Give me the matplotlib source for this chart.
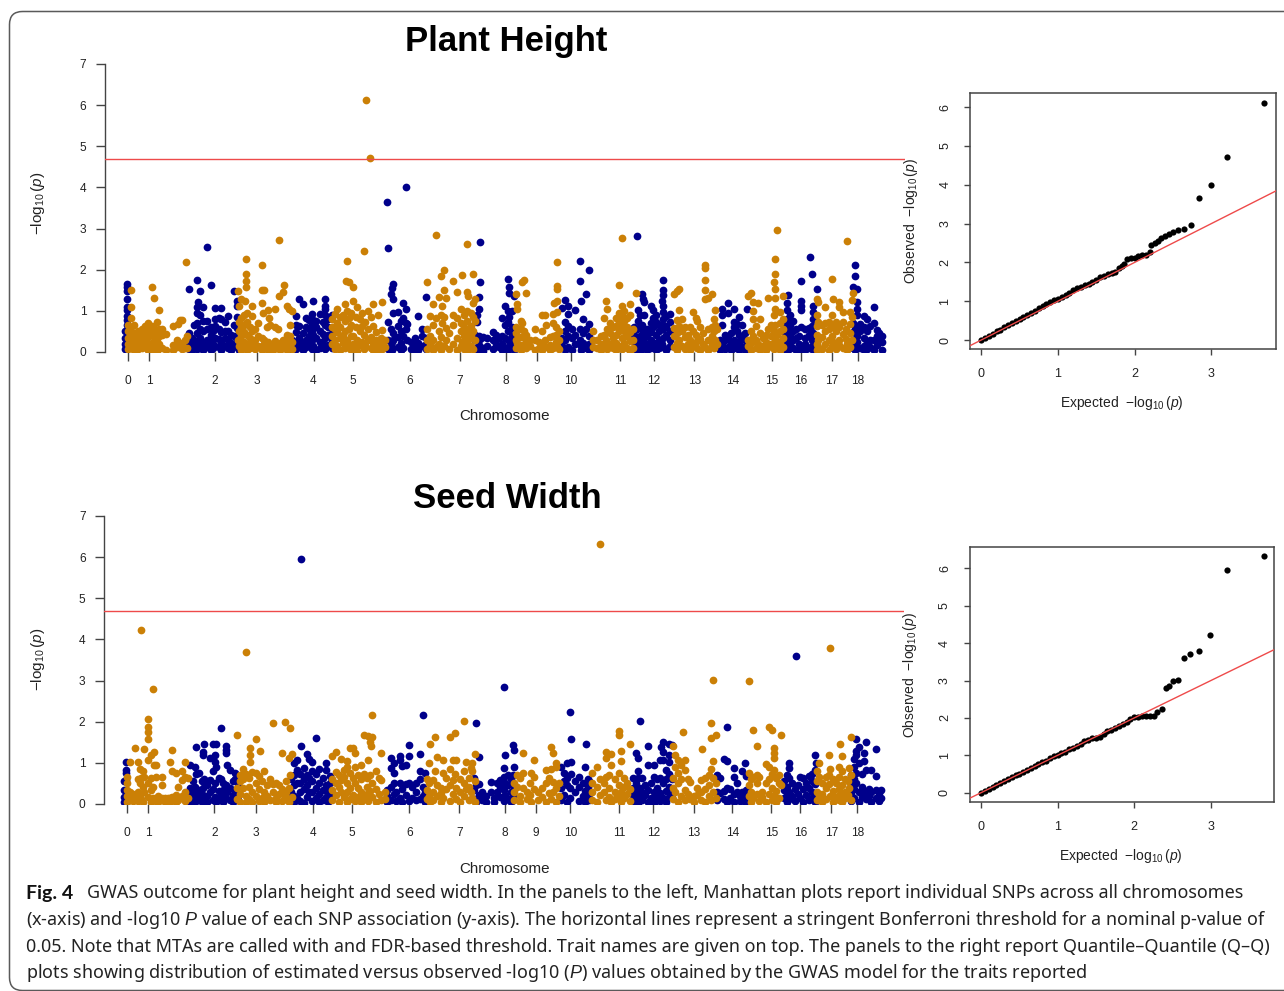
import matplotlib
matplotlib.use('Agg')
import matplotlib.pyplot as plt
from matplotlib.patches import FancyBboxPatch

plt.rcParams['font.family'] = ['Liberation Sans', 'DejaVu Sans']
plt.rcParams['mathtext.fontset'] = 'custom'
plt.rcParams['mathtext.rm'] = 'Liberation Sans'
plt.rcParams['mathtext.it'] = 'Liberation Sans:italic'
plt.rcParams['mathtext.default'] = 'regular'

# chromosome ticks, x is genome position in plot units
chrom_pos = [2.5, 24, 90, 132, 188.5, 228, 285, 335, 381, 412, 446, 495, 529, 569.5, 608, 647, 676, 707, 733]
chrom_lab = [str(i) for i in range(19)]
threshold = 4.69

# Plant Height, each row is (position, [-log10 p values])
ph_blue = [
    (0, [.5, .35, .2, .08]), (2, [1.65, 1.58, 1.48, 1.28, 1.1, 1.02, .88, .78, .65]),
    (64, [1.53, .47, .2, .08]), (67, [.35, .15, .05]), (69, [.65, .3, .1]),
    (72, [1.74, 1.09, .95, .7, .45, .25, .08]), (75, [1.48, .89, .55, .35, .15]),
    (73, [1.22]), (78, [1.1, .75, .5, .22, .05]), (82, [2.55, .75, .55, .3, .12]),
    (86, [1.62, .6, .42, .2, .05]), (88, [.5, .3, .1]), (90, [1.06, .8, .62, .35, .15]),
    (94, [.82, .55, .32, .12]), (96, [1.06, .8, .48, .25, .05]), (100, [.72, .52, .35, .15]),
    (103, [.87, .5, .28, .1]), (106, [.42, .22, .05]), (109, [1.48, .65, .38, .15]),
    (112, [1.25, 1.13, .85, .58, .32, .12]), (114, [.7, .45, .2, .05]),
    (167, [.3, .12, .03]), (171, [.88, .65, .48, .25, .08]), (174, [1.3, .62, .35, .15]),
    (178, [1.16, .45, .22, .05]), (181, [.83, .6, .3, .12]), (184, [.78, .55, .38, .18]),
    (187, [.93, .8, .65, .5, .3, .08]), (188, [1.24, .72, .42, .15]), (191, [.75, .6, .33, .05]),
    (195, [.93, .5, .25, .1]), (198, [.72, .44, .2]), (200, [1.3, 1.13, 1.05, .89, .65, .35, .08]),
    (203, [.8, .6, .42, .18]), (207, [.9, .55, .3, .1]),
    (262, [3.65]), (263, [2.53, .73, .3, .08]), (266, [1.42, .55, .15]), (267, [1.56, .25, .05]),
    (268, [1.66, 1.3, .95, .45, .3]), (273, [.97, .62, .36, .12]), (276, [.75, .5, .22, .05]),
    (278, [1.19, .83, .4, .1]), (281, [4.0, 1.05, .7, .55]), (282, [.69, .3]), (286, [.25, .08]),
    (290, [.35, .12, .03]), (293, [.88, .22, .06]), (297, [.57, .4, .15]), (301, [1.34, .35, .2, .08]),
    (350, [.42, .3, .1]), (352, [.89, .73, .05]), (354, [1.34, 1.04, .4, .18]), (355, [2.67, 1.7, .32]),
    (358, [.36, .1, .03]), (362, [.34, .15]), (368, [.49, .3, .08]), (371, [.42, .2]), (374, [.35, .12]),
    (377, [.83, .4, .2, .05]), (380, [1.13, .65, .35, .1]), (383, [1.77, .99, .72, .5, .28, .06]),
    (384, [1.58, 1.43, .85, .15]), (387, [1.0, .6, .4, .12]), (389, [1.35, .55, .25, .04]),
    (437, [1.08, .35, .15]), (440, [1.27, .73, .5, .28, .06]), (443, [1.13, .93, .62, .38, .12]),
    (447, [.55, .34, .05]), (450, [1.01, .42, .2]), (455, [2.2, 1.72, .57, .3]), (456, [1.24, .15, .05]),
    (458, [.81, .45, .22]), (461, [1.42, .55, .1]), (464, [2.0, .69, .4, .2, .05]),
    (509, [.6, .42, .25, .08]), (512, [2.83, .55, .3, .12]), (513, [1.01, .75, .18, .03]), (515, [.89, .6, .4]),
    (517, [1.42, .66, .25, .08]), (518, [1.3, .5, .15]), (519, [1.21, .9, .35]), (522, [.55, .38, .2, .05]),
    (526, [1.13, .7, .48, .28, .1]), (528, [1.01, .83, .6, .15]), (531, [.9, .72, .42, .22, .04]),
    (534, [.65, .5, .3, .1]), (538, [1.74, 1.51, 1.38, 1.13, .98, .8, .55, .35, .12]), (537, [1.24, .68, .2]),
    (541, [.88, .62, .42, .06]), (545, [.93, .72, .5, .3, .15]),
    (595, [.3, .15, .04]), (597, [1.05, .89, .65, .2]), (600, [.42, .28, .08]), (603, [1.2, .95, .34, .12]),
    (606, [.45, .22, .04]), (609, [1.04, .73, .6, .3, .1]), (612, [.68, .5, .18]), (614, [.85, .42, .25, .06]),
    (617, [.65, .35, .12]), (620, [.45, .28, .05]), (622, [1.04, .2]),
    (660, [.65, .45, .25, .08]), (662, [1.19, 1.01, .8, .3, .12]), (663, [1.39, .55, .04]), (665, [.89, .65, .4, .2]),
    (668, [.75, .5, .3, .1]), (671, [.57, .34, .06]), (674, [.4, .2, .03]), (676, [1.72, 1.25, 1.13, 1.01, .6, .15]),
    (680, [.55, .35, .2, .05]), (684, [.58, .42, .1]), (685, [2.31]), (687, [1.89, .62, .28, .14]),
    (688, [1.13, .97, .79, .45, .05]), (692, [1.54]),
    (728, [1.58, .7, .48, .3, .1]), (730, [2.11, 1.85, .6, .18, .04]), (732, [1.54, 1.21, 1.05, .89, .4, .25]),
    (735, [.68, .52, .1]), (739, [.87, .6, .35, .15, .04]), (742, [.79, .5, .25, .08]), (745, [.62, .3, .12]),
    (749, [1.09, .7, .28, .06]), (752, [.53, .4, .16]), (754, [.45, .24]), (757, [.4, .24, .06]),
]
ph_orange = [
    (3, [.65, .5, .35, .2, .08]), (6, [1.51, 1.09, .83, .6, .42, .25, .1]), (9, [.65, .47, .3, .15, .04]),
    (13, [.5, .35, .2, .08]), (17, [.56, .41, .26, .1]), (20, [.62, .45, .3, .12]), (23, [.7, .52, .36, .2, .05]),
    (27, [1.58, .64, .46, .22, .08]), (29, [1.31, .58, .4, .26, .07]), (32, [.72, .5, .32, .12, .03]),
    (34, [1.03, .55, .38, .2]), (37, [.57, .42, .1]), (41, [.43, .04]), (48, [.63, .16, .06]),
    (52, [.28, .12]), (53, [.69]), (55, [.77, .22]), (57, [.77, .2, .07]), (60, [.28, .1]), (61, [2.19]), (62, [.4, .1]),
    (113, [1.48, .3]), (114, [1.13, .72, .5, .15]), (116, [1.3, .82, .6, .38, .06]), (119, [.9, .65, .48, .25]),
    (120, [1.24, .12]), (121, [2.27, 1.89, 1.72, 1.58]), (122, [.95, .72, .42, .2, .05]), (125, [.6, .35, .1]),
    (127, [1.12, .87, .5, .22]), (130, [.55, .3, .08]), (133, [.7, .4, .15]), (137, [2.11, 1.51, 1.2, .33, .05]),
    (138, [.95, .18]), (139, [1.51, .28]), (142, [.6, .15]), (143, [1.01, .24, .06]), (144, [.83]),
    (145, [.65, .12]), (148, [.2, .04]), (150, [1.04, .6, .26]), (153, [.57, .1]), (154, [2.73, 1.36]),
    (155, [.22, .05]), (158, [1.46, .3, .12]), (159, [1.64, .18]), (162, [1.12, .42, .2, .04]), (164, [1.05, .35, .12]),
    (165, [.65, .4]), (167, [1.0, .25, .08]),
    (207, [.8, .6, .4, .2]), (210, [.92, .55, .3, .08]), (212, [1.04, .7, .48, .14]), (215, [.85, .6, .35, .04]),
    (218, [.9, .42, .22]), (220, [1.17, .75, .5, .1]), (221, [1.72]), (222, [2.21, 1.0, .3]), (224, [1.7, .82, .55, .16]),
    (226, [.95, .65, .38, .06]), (228, [1.58, 1.25, .4, .2]), (231, [.85, .6, .1]), (232, [1.09, .3, .03]),
    (235, [.8, .5, .16]), (237, [.95, .62, .25]), (239, [2.45, .42, .07]), (240, [.72, .18]), (241, [6.12]), (243, [1.0, .55, .3]),
    (245, [4.71]), (246, [.85, .36, .1]), (248, [1.16, .62, .22, .04]), (251, [.48, .3]), (253, [.89, .15, .06]),
    (256, [.35, .22]), (257, [1.22, .54, .08]), (260, [.28, .12]),
    (302, [1.7, .55, .3, .08]), (305, [.88, .4, .18]), (308, [1.17, .65, .28, .04]), (311, [2.85, .82, .12]),
    (314, [1.34, .52, .2]), (316, [1.84, .9, .36, .06]), (317, [1.11, .7]), (319, [2.0, 1.5, .85, .15]), (321, [1.32, .58, .3]),
    (324, [.45, .08]), (328, [1.72, .9, .65, .2]), (332, [1.47, .82, .35, .05]), (336, [1.04, .7, .5, .14]),
    (337, [1.86, .25]), (339, [.9, .6, .4, .08]), (342, [2.62, 1.47, 1.0, .75, .5, .2]), (343, [1.36, .3, .04]),
    (346, [.95, .62, .42, .14]), (348, [1.9, 1.19, .85, .52, .07]), (350, [1.3, .75, .3]),
    (391, [1.4, .6, .45, .3, .1]), (392, [1.17, 1.05, .22]), (396, [.75, .55, .36, .06]), (397, [1.7, .7, .16]),
    (399, [1.76, .5]), (401, [1.43, .42, .26, .1]), (405, [.3, .14]), (410, [.55, .28, .06]), (414, [.25, .1]),
    (417, [.91, .5, .2, .04]), (420, [.91, .3, .12]), (421, [.65]), (425, [.36, .18, .05]), (428, [.93, .7, .4, .1]),
    (431, [.6, .42, .25]), (432, [2.18, 1.6, 1.54, 1.24, .97, .15]), (434, [.52, .3, .08]), (429, [1.19]),
    (468, [.5, .3, .12]), (472, [.28, .1]), (476, [.38, .2, .04]), (479, [.83, .42, .14]), (481, [1.25, .3]),
    (482, [1.05, .55, .08]), (485, [.7, .45, .2]), (488, [.6, .35, .1]), (491, [.82, .62, .42, .22, .04]),
    (494, [1.64, .95, .72, .5, .14]), (497, [2.78, 1.13, .88, .6, .35, .07]), (499, [1.0, .75, .5, .22]),
    (502, [.82, .6, .38, .1]), (505, [1.17, .89, .48, .26, .03]), (508, [.55, .3, .1]), (511, [1.44]),
    (549, [1.42, .58, .38, .12]), (552, [1.48, .77, .45, .22, .04]), (554, [1.54, 1.01, .62, .3]), (557, [.8, .5, .15]),
    (560, [.6, .36, .08]), (563, [.42, .2]), (565, [.6, .28, .05]), (568, [.97, .5, .16]), (571, [.83, .42, .24]),
    (572, [.75, .1]), (575, [.6, .32, .04]), (578, [.45, .2]), (580, [2.12, 2.04, 1.76, 1.5, 1.28, .12]),
    (583, [1.31, .55, .3, .06]), (587, [1.42, .6, .4, .18]), (589, [.81, .5, .1]), (590, [1.03, .65, .3]), (592, [.55, .2]),
    (623, [1.36, .3, .14]), (626, [1.44, .5, .22, .05]), (628, [1.21, 1.0, .81, .4]), (631, [.62, .3, .1]),
    (633, [1.19, .2]), (635, [.79, .45, .06]), (638, [.35, .15]), (641, [.42, .25, .04]), (643, [1.32, .55, .12]),
    (646, [.65, .38, .2]), (649, [1.7, .89, .5, .08]), (650, [2.27, 1.9, 1.52, 1.32, 1.04, .65, .3]), (652, [2.96, .42, .16]),
    (655, [.97, .7, .5, .25, .05]), (658, [1.36, .8, .55, .33, .12]),
    (692, [1.3, .89, .62, .42, .2, .05]), (693, [1.21, .72, .3, .12]), (697, [.65, .36, .08]), (700, [1.09, .7, .5, .2]),
    (704, [.73, .55, .3, .04]), (707, [1.77, .89, .62, .4, .14]), (708, [1.3, .25]), (711, [.72, .5, .08]),
    (714, [1.21, 1.09, .6, .3, .18]), (718, [.97, .72, .44, .1]), (721, [.55, .32]), (722, [2.71, .2, .05]),
    (725, [.97, .68, .45, .12]), (727, [1.27, .85, .3]), (728, [1.43]),
]

# Seed Width
sw_blue = [
    (0, [.55, .35, .18, .05]), (2, [1.03, .83, .75, .58]),
    (64, [.25, .1]), (66, [.96, .4, .18, .04]), (69, [.55, .3, .12]), (71, [.89, .42, .05]), (72, [1.39, .72, .22]),
    (75, [.75, .34, .14]), (78, [.55, .25, .05]), (79, [1.27, 1.19, .4]), (80, [1.45, .6, .12]), (83, [.45, .2, .04]),
    (86, [1.11, .58, .28]), (89, [1.45, .79, .36, .1]), (91, [1.19, 1.03, .5, .18]), (92, [1.45, .89, .04]),
    (95, [.62, .32, .12]), (97, [1.85, .6, .22]), (99, [.52, .35, .06]), (102, [1.42, 1.31, 1.23, .45, .15]),
    (103, [.95, .28]), (106, [.83, .4, .1]), (109, [.55, .22, .04]), (111, [.75, .6, .35, .14]), (114, [.5, .2]),
    (167, [.6, .3, .1]), (170, [1.0, .7, .45, .2, .04]), (173, [1.08, .83, .52, .14]), (176, [.72, .5, .28, .08]),
    (177, [5.95, 1.42]), (180, [.87, .6, .36, .03]), (183, [1.21, .7, .45, .16]), (185, [1.09, .62, .28]),
    (188, [1.03, .8, .55, .3, .08]), (192, [1.6, .72, .4, .14]), (195, [.84, .5, .25, .04]), (199, [.62, .35, .1]),
    (202, [1.0, .83, .45, .18]), (204, [.4, .28, .06]), (206, [.68, .5, .2]),
    (263, [.34, .2, .04]), (267, [1.13, .87, .42, .1]), (270, [.99, .75, .5, .25]), (272, [.3, .08]), (276, [1.17, 1.07, .5, .15]),
    (278, [.93, .36, .05]), (282, [.95, .48, .22]), (285, [1.43, 1.17, .52, .08]), (288, [.42, .15]), (292, [.5, .3, .1]),
    (296, [1.21, .79, .6, .12]), (299, [2.16, .42, .2]), (301, [.75, .28, .06]),
    (350, [.62, .35, .12]), (352, [1.97, .45, .05]), (355, [1.15, .49, .22]), (358, [.3, .1]), (362, [.2, .04]),
    (367, [.53, .3]), (370, [.15, .05]), (373, [.5, .3]), (376, [.58, .42, .18]), (380, [2.85, .87, .66, .34, .08]),
    (381, [1.19, .5, .22]), (384, [.7, .45, .12]), (387, [.6, .3, .05]), (389, [1.43, .7, .2]), (390, [1.31, .89, .42]),
    (437, [.91, .38, .1]), (440, [.75, .55, .22]), (443, [.99, .62, .45, .05]), (446, [2.23, .4, .15]), (447, [1.57, 1.03, .72]),
    (451, [.55, .3]), (455, [.66, .42, .08]), (459, [.5, .2]), (461, [.89, .32, .04]), (462, [1.47, .15]), (464, [.6, .42]),
    (465, [.55, .25, .1]),
    (509, [.62, .4, .22, .06]), (512, [1.25, .5, .32, .12]), (514, [1.11, .79, .62, .03]), (516, [2.02, .4, .2]),
    (518, [.62, .3, .1]), (521, [.45, .22]), (524, [1.42, .95, .34, .06]), (527, [.5, .15]), (530, [.95, .66, .3, .03]),
    (533, [.6, .4, .18]), (536, [1.07, .62, .26, .08]), (539, [1.51, 1.27, 1.07, .5, .14]), (537, [1.38]),
    (542, [.83, .6, .32, .04]), (545, [1.46, 1.19, 1.03, .72, .42, .18]), (548, [1.43, .6, .25]),
    (593, [.7, .3, .1]), (596, [.62, .26]), (600, [1.09, .32, .12]), (603, [1.88, 1.05, .38, .05]), (606, [.36, .15]),
    (610, [.88, .65, .24, .06]), (613, [.5, .3]), (616, [.2, .08]), (618, [.81, .28]), (621, [.99, .2, .05]), (622, [.68, .34]),
    (660, [.55, .35, .15]), (663, [.7, .42, .24, .05]), (665, [1.0, .87, .62, .3, .12]), (668, [.5, .2]), (671, [.36, .08]),
    (672, [3.6]), (674, [.45, .25]), (676, [.66, .14]), (679, [.62, .36, .05]), (682, [.5, .22]), (685, [.68, .4, .1]),
    (688, [.72, .55, .3, .15]), (691, [1.2, .83, .48, .04]), (692, [.99, .25]),
    (727, [.7, .45, .25, .08]), (730, [1.1, .9, .6, .36, .14]), (732, [1.58, 1.3, 1.2, .75, .5]), (735, [1.39, 1.0, .28, .05]),
    (738, [.72, .42, .16]), (740, [1.25, 1.05, .3]), (742, [1.5, .83, .12]), (745, [.36, .2]), (747, [.83, .3, .06]),
    (752, [1.33, .68, .35, .15]), (755, [.26, .08]), (757, [.34, .14]),
]
sw_orange = [
    (3, [.66, .5, .35, .2, .05]), (6, [1.01, .28, .12]), (9, [.25, .08]), (11, [1.37, .15]), (14, [1.01, .6, .3, .08]),
    (16, [.84, .5, .2]), (17, [4.22, .62, .12]), (19, [.79, .42, .05]), (20, [1.34, .65, .28]), (24, [2.06, 1.86, 1.76, 1.58, 1.07, .5, .18]),
    (27, [1.19, .62, .35, .04]), (29, [2.8, .42, .15]), (30, [1.26, .96]), (32, [.96, .66, .08]), (34, [.2, .05]),
    (38, [.66, .46, .14]), (41, [.15, .04]), (44, [.14]), (46, [1.02, .15, .06]), (48, [1.31, .79, .18]), (52, [.75, .22, .05]),
    (54, [.42, .1]), (58, [.81, .58, .2]), (61, [1.03, .66, .28, .08]), (64, [.62, .15]),
    (113, [1.68, .4, .12]), (116, [.7, .55, .25, .04]), (119, [.84, .6, .38]), (122, [3.7, .72, .2, .06]), (125, [.62, .42, .12]),
    (126, [1.35, 1.19, 1.03]), (128, [.78, .3, .05]), (132, [1.57, .75, .5, .2]), (135, [.68, .36, .08]), (136, [1.29]),
    (138, [.55, .14]), (140, [.79, .3, .04]), (143, [.45, .2]), (146, [.61, .1]), (149, [1.96, .49, .3]), (152, [.5, .15, .04]),
    (155, [.45, .24]), (158, [1.25, .36, .08]), (161, [2.0, .2]), (162, [.56, .3, .12]), (165, [1.13, .4, .05]), (166, [1.85, .7]), (168, [1.21, .18]),
    (208, [1.17, .6, .35, .1]), (212, [1.27, .78, .5, .22]), (215, [.7, .42, .06]), (217, [1.09, .58, .3]), (220, [.82, .65, .16]),
    (223, [1.04, .9, .5, .28, .04]), (226, [1.35, .75, .4, .12]), (229, [1.37, .62, .22]), (231, [1.25, .89, .5, .07]),
    (234, [.7, .38, .18]), (237, [.94, .6, .3, .04]), (240, [1.68, .72, .14]), (243, [.62, .42, .25]), (244, [1.66, 1.07, .08]),
    (246, [1.5, .7, .32]), (248, [2.16, 1.64, .5, .16]), (247, [1.42]), (252, [.81, .36, .05]), (255, [.62, .24]), (257, [1.23, .58, .1]),
    (261, [.3, .12]),
    (303, [.6, .35, .12]), (305, [.99, .5, .2]), (306, [1.46, .04]), (309, [.58, .3, .1]), (311, [1.62, .79]), (313, [1.15, .45, .2]),
    (317, [.4, .26, .05]), (319, [1.07, .75, .14]), (322, [.62, .36]), (326, [1.64, .85, .45, .08]), (329, [1.07, .58, .25]),
    (331, [1.73, .72]), (332, [1.08, .4, .12]), (336, [.6, .3, .04]), (340, [2.02, .79, .5, .2]), (342, [1.03, .36]), (345, [.62, .42, .1]),
    (347, [.87, .3]), (348, [.99, .79, .15]), (351, [1.21, .55, .05]),
    (390, [.5, .3, .1]), (393, [.7, .42]), (396, [.62, .2, .05]), (399, [1.25, .75, .4]), (403, [.3, .12]), (406, [.5, .22]),
    (407, [.75, .04]), (410, [1.07, .66, .36]), (414, [.28, .1]), (418, [.4, .18]), (422, [.83, .5, .06]), (425, [.62, .26]),
    (427, [1.38, .84, .12]), (429, [1.25, .54, .3]), (432, [1.0, .89, .4, .06]), (435, [.5, .2]),
    (468, [.75, .5, .3, .1]), (473, [.89, .42, .05]), (476, [6.33, .6, .22]), (480, [.5, .28]), (482, [1.27, 1.11, .66, .1]),
    (485, [.7, .38, .18]), (487, [1.21, .96, .04]), (491, [.6, .3, .12]), (495, [1.78, 1.68, .75, .45, .2]), (497, [1.3, 1.04, .3, .05]),
    (500, [.62, .42, .14]), (503, [.5, .25]), (506, [1.47, .36, .08]),
    (549, [1.41, .62, .4, .12]), (551, [1.19, .9, .3]), (554, [1.07, .75, .5, .05]), (557, [.95, .6, .2]), (559, [1.75]),
    (561, [1.07, .83, .35, .1]), (564, [.6, .25]), (566, [.54, .12]), (570, [.2, .05]), (573, [.4, .22]), (577, [.58, .3, .1]),
    (578, [1.34]), (581, [.62, .36, .05]), (585, [.7, .45, .2]), (587, [1.97, 1.6, .85, .1]), (589, [3.02, 1.04, .62, .3]), (592, [1.68, .5, .15]),
    (625, [3.0, .76, .45, .2]), (627, [.6, .3, .05]), (629, [1.81, .66, .14]), (633, [1.41, .7, .5, .25]), (635, [.65, .08]),
    (638, [.3, .16]), (642, [.97, .5, .04]), (645, [1.86, .89, .6, .24]), (648, [1.81, .72, .4, .1]), (650, [1.35, 1.25, 1.13, .83, .2]),
    (652, [.62, .32, .05]), (655, [.7, .5, .14]), (657, [1.68, .45]),
    (693, [.8, .55, .3, .1]), (695, [.99, .66, .18]), (698, [.5, .25, .04]), (702, [.66, .4, .12]), (705, [1.19, .7, .48]),
    (706, [3.8, .85, .2]), (709, [.6, .32, .06]), (712, [.5, .18]), (715, [.91, .66, .36, .1]), (716, [1.45, .25]),
    (718, [1.17, .79, .45, .05]), (721, [.6, .3, .14]), (724, [.55, .22]), (725, [.87, .38]), (727, [1.62, .7, .1]),
]

qq1_exp = [0, .05, .1, .15, .2, .25, .3, .35, .4, .45, .5, .55, .6, .65, .7, .75, .8, .85, .9, .95, 1, 1.05, 1.1, 1.15,
           1.2, 1.25, 1.3, 1.35, 1.4, 1.45, 1.5, 1.55, 1.6, 1.65, 1.7, 1.75, 1.8, 1.83, 1.86, 1.9, 1.95, 2.0, 2.05, 2.1,
           2.15, 2.2, 2.22, 2.26, 2.3, 2.35, 2.4, 2.45, 2.5, 2.57, 2.65, 2.73, 2.84, 2.99, 3.21, 3.69]
qq1_obs = [0, .05, .1, .16, .22, .27, .33, .38, .44, .5, .55, .6, .65, .7, .76, .82, .87, .94, .98, 1.02, 1.06, 1.1, 1.15, 1.21,
           1.29, 1.33, 1.37, 1.41, 1.45, 1.5, 1.55, 1.62, 1.66, 1.7, 1.72, 1.75, 1.85, 1.9, 1.95, 2.08, 2.12, 2.12, 2.17, 2.2,
           2.2, 2.28, 2.45, 2.5, 2.55, 2.62, 2.68, 2.72, 2.78, 2.84, 2.85, 2.97, 3.66, 4.0, 4.71, 6.12]
qq2_exp = [0, .05, .1, .15, .2, .25, .3, .35, .4, .45, .5, .55, .6, .65, .7, .75, .8, .85, .9, .95, 1, 1.05, 1.1, 1.15,
           1.2, 1.25, 1.3, 1.35, 1.4, 1.45, 1.5, 1.55, 1.6, 1.65, 1.7, 1.75, 1.8, 1.85, 1.9, 1.95, 2.0, 2.05, 2.1, 2.15,
           2.2, 2.26, 2.3, 2.36, 2.41, 2.45, 2.51, 2.57, 2.65, 2.73, 2.84, 2.99, 3.21, 3.69]
qq2_obs = [0, .05, .1, .16, .21, .26, .31, .36, .41, .46, .51, .56, .61, .67, .72, .76, .81, .85, .92, .98, 1.02, 1.06, 1.1, 1.16,
           1.2, 1.24, 1.31, 1.37, 1.41, 1.45, 1.45, 1.5, 1.58, 1.65, 1.68, 1.73, 1.78, 1.85, 1.88, 1.98, 2.02, 2.02, 2.06, 2.06,
           2.06, 2.06, 2.16, 2.23, 2.79, 2.85, 3.0, 3.02, 3.6, 3.7, 3.78, 4.22, 5.95, 6.33]

caption_bold = 'Fig. 4'
caption_lines = [
    'GWAS outcome for plant height and seed width. In the panels to the left, Manhattan plots report individual SNPs across all chromosomes',
    '(x-axis) and -log10 $\\mathit{P}$ value of each SNP association (y-axis). The horizontal lines represent a stringent Bonferroni threshold for a nominal p-value of',
    '0.05. Note that MTAs are called with and FDR-based threshold. Trait names are given on top. The panels to the right report Quantile\u2013Quantile (Q\u2013Q)',
    'plots showing distribution of estimated versus observed -log10 ($\\mathit{P}$) values obtained by the GWAS model for the traits reported',
]

W, H = 1284, 991
BLUE = '#00008B'
ORANGE = '#CB8006'
RED = '#EE4A4A'
GREY = '#444444'


def px_axes(fig, left, top, right, bottom):
    return fig.add_axes([left / W, 1 - bottom / H, (right - left) / W, (bottom - top) / H])


def flat(rows):
    xs, ys = [], []
    for pos, vals in rows:
        for v in vals:
            xs.append(pos)
            ys.append(v)
    return xs, ys


def manhattan(fig, left, top, bottom, blue, orange):
    ax = px_axes(fig, left, top, left + 800, bottom)
    ax.set_xlim(-20, 780)
    ax.set_ylim(0, 7)
    ax.scatter(*flat(blue), s=31, color=BLUE, linewidths=0, zorder=2)
    ax.scatter(*flat(orange), s=31, color=ORANGE, linewidths=0, zorder=3)
    ax.axhline(threshold, color=RED, lw=1, zorder=4)
    for s in ['top', 'right', 'bottom']:
        ax.spines[s].set_visible(False)
    ax.spines['left'].set_color(GREY)
    ax.spines['left'].set_linewidth(1)
    ax.set_xticks(chrom_pos)
    ax.set_xticklabels(chrom_lab)
    ax.set_yticks(range(8))
    ax.tick_params(axis='both', length=6.5, width=1, color=GREY, labelsize=8.6, labelcolor='#222222')
    ax.tick_params(axis='x', pad=10)
    ax.tick_params(axis='y', pad=7)
    return ax


def qq(fig, left, top, right, bottom, xlim, ylim, exp, obs):
    ax = px_axes(fig, left, top, right, bottom)
    ax.scatter(exp, obs, s=20, color='black', linewidths=0, zorder=2)
    ax.axline((0, 0), slope=1, color=RED, lw=1, zorder=3)
    ax.set_xlim(*xlim)
    ax.set_ylim(*ylim)
    ax.set_xticks(range(4))
    ax.set_yticks(range(7))
    ax.tick_params(axis='both', length=4.5, width=1, color=GREY, labelsize=9, labelcolor='#222222')
    ax.tick_params(axis='x', pad=9)
    ax.tick_params(axis='y', pad=9, labelrotation=90)
    for label in ax.get_yticklabels():
        label.set_va('center')
    for s in ax.spines.values():
        s.set_color(GREY)
        s.set_linewidth(1.1)
    return ax


fig = plt.figure(figsize=(W / 100, H / 100), dpi=100)

manhattan(fig, 105, 64, 352, ph_blue, ph_orange)
manhattan(fig, 104.3, 516, 804, sw_blue, sw_orange)
qq(fig, 970.3, 93.3, 1275.7, 349, (-.143, 3.84), (-.232, 6.36), qq1_exp, qq1_obs)
qq(fig, 969.7, 546.7, 1273.7, 802, (-.148, 3.82), (-.249, 6.58), qq2_exp, qq2_obs)

# frame and free text go on a pixel overlay
over = fig.add_axes([0, 0, 1, 1], zorder=10)
over.set_xlim(0, W)
over.set_ylim(H, 0)
over.axis('off')
over.patch.set_alpha(0)
over.add_patch(FancyBboxPatch((9.5, 11.5), 1500, 979, boxstyle='round,pad=0,rounding_size=13',
                              fc='none', ec='#5a5a5a', lw=1.1, clip_on=True))

over.text(506, 41, 'Plant Height', fontsize=25, fontweight='bold', ha='center', va='center')
over.text(507, 499, 'Seed Width', fontsize=25, fontweight='bold', ha='center', va='center')
for y in (416, 869):
    over.text(504, y, 'Chromosome', fontsize=10.9, ha='center', va='center', color='#222222')
for y in (203, 659):
    over.text(38, y, r'$-\log_{10}(\mathit{p})$', fontsize=11, rotation=90, ha='center', va='center', color='#222222')
over.text(1122, 403, r'Expected  $-\log_{10}(\mathit{p})$', fontsize=10, ha='center', va='center', color='#222222')
over.text(1121, 856, r'Expected  $-\log_{10}(\mathit{p})$', fontsize=10, ha='center', va='center', color='#222222')
over.text(911, 221, r'Observed  $-\log_{10}(\mathit{p})$', fontsize=10, rotation=90, ha='center', va='center', color='#222222')
over.text(910, 675, r'Observed  $-\log_{10}(\mathit{p})$', fontsize=10, rotation=90, ha='center', va='center', color='#222222')

cap_font = 'Noto Sans'
over.text(26, 893, caption_bold, family='Lato', fontsize=14, fontweight='bold', va='center', color='#111111')
over.text(87, 893, caption_lines[0], family=cap_font, fontsize=12.97, va='center', color='#222222')
for y, line in zip((920, 947, 973), caption_lines[1:]):
    over.text(26, y, line, family=cap_font, fontsize=12.97, va='center', color='#222222')

fig.savefig('out.png', dpi=100)
